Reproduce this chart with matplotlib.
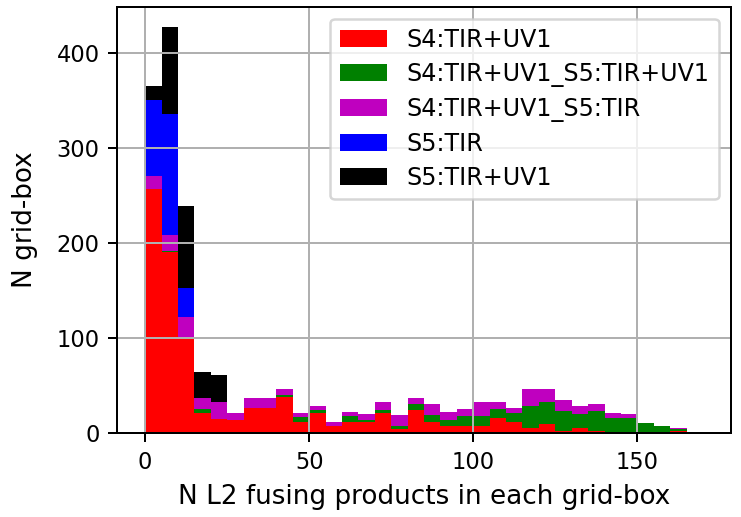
import numpy as np
import matplotlib
matplotlib.use("Agg")
import matplotlib.pyplot as plt

# Histogram bin edges (width 5, 0..170)
bin_edges = list(range(0, 175, 5))

labels = ["S4:TIR+UV1", "S4:TIR+UV1_S5:TIR+UV1", "S4:TIR+UV1_S5:TIR",
          "S5:TIR", "S5:TIR+UV1"]
colors = ["r", "g", "m", "b", "k"]

# counts per bin for each category
s4_tir_uv1 = [257, 190, 100, 21, 15, 14, 27, 27, 38, 12, 21, 8, 12, 12, 21, 4, 24,
              12, 8, 8, 8, 16, 12, 6, 10, 2, 6, 2, 0, 0, 0, 0, 2, 0]
s4_s5_tir_uv1 = [0, 2, 0, 4, 0, 0, 0, 0, 2, 5, 3, 0, 6, 2, 3, 4, 7,
                 7, 6, 10, 10, 10, 9, 23, 23, 21, 14, 21, 16, 16, 11, 8, 2, 0]
s4_s5_tir = [13, 16, 22, 12, 18, 7, 10, 10, 7, 4, 5, 4, 4, 6, 9, 11, 6,
             12, 8, 7, 15, 7, 6, 18, 14, 12, 9, 8, 5, 4, 0, 0, 2, 0]
s5_tir = [80, 128, 31, 0, 0, 0, 0, 0, 0, 0, 0, 0, 0, 0, 0, 0, 0,
          0, 0, 0, 0, 0, 0, 0, 0, 0, 0, 0, 0, 0, 0, 0, 0, 0]
s5_tir_uv1 = [15, 91, 86, 27, 28, 0, 0, 0, 0, 0, 0, 0, 0, 0, 0, 0, 0,
              0, 0, 0, 0, 0, 0, 0, 0, 0, 0, 0, 0, 0, 0, 0, 0, 0]

series = [s4_tir_uv1, s4_s5_tir_uv1, s4_s5_tir, s5_tir, s5_tir_uv1]

edges = np.array(bin_edges, dtype=float)
centers = (edges[:-1] + edges[1:]) / 2

DPI = 180
fig = plt.figure(figsize=(742 / DPI, 517 / DPI), dpi=DPI)
ax = fig.add_axes([0.158, 0.162, 0.827, 0.825])

ax.hist([centers] * len(series), bins=edges, weights=series, stacked=True,
        color=colors, label=labels)

ax.grid(True)
ax.set_xlabel("N L2 fusing products in each grid-box", fontsize=10.5)
ax.set_ylabel("N grid-box", fontsize=10.5, labelpad=7.5)
ax.tick_params(labelsize=9.0)
ax.set_yticks([0, 100, 200, 300, 400])
ax.set_xticks([0, 50, 100, 150])
ax.legend(loc="upper right", fontsize=9.5, labelspacing=0.42)

fig.savefig("out.png", dpi=DPI)
